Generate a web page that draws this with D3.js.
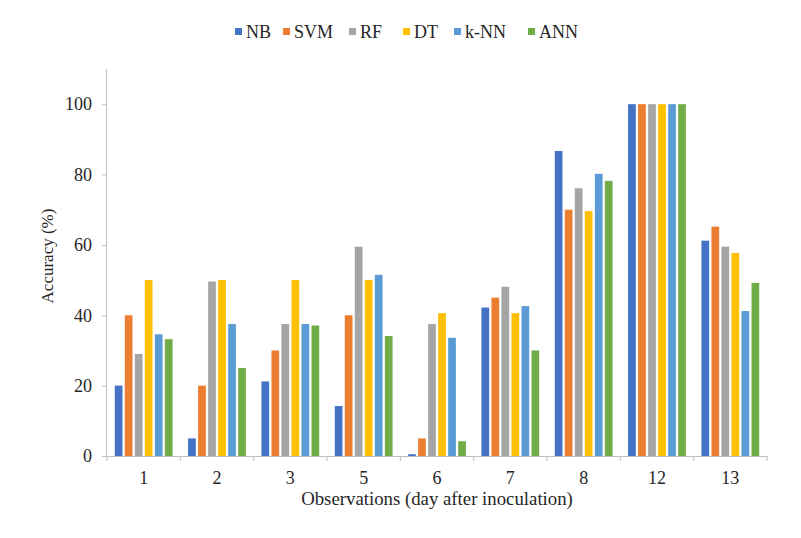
<!DOCTYPE html>
<html>
<head>
<meta charset="utf-8">
<script src="https://cdn.jsdelivr.net/npm/d3@7"></script>
<style>
  body { margin: 0; background: #fff; }
  text { font-family: "Liberation Serif", "Times New Roman", serif; fill: #262626; }
</style>
</head>
<body>
<div id="chart"></div>
<script>
const days = ["1", "2", "3", "5", "6", "7", "8", "12", "13"];
const models = ["NB", "SVM", "RF", "DT", "k-NN", "ANN"];
const colors = ["#4472C4", "#ED7D31", "#A5A5A5", "#FFC000", "#5B9BD5", "#70AD47"];

const nb  = [20, 5, 21.2, 14.2, 0.5, 42.2, 86.7, 100, 61.2];
const svm = [40, 20, 30, 40, 5, 45, 70, 100, 65.2];
const rf  = [29, 49.6, 37.5, 59.5, 37.5, 48.1, 76.1, 100, 59.5];
const dt  = [50, 50, 50, 50, 40.6, 40.6, 69.6, 100, 57.7];
const knn = [34.6, 37.5, 37.5, 51.5, 33.6, 42.6, 80.2, 100, 41.2];
const ann = [33.2, 25, 37.1, 34.1, 4.2, 30, 78.2, 100, 49.2];
const yTicks = [0, 20, 40, 60, 80, 100];

const seriesValues = [nb, svm, rf, dt, knn, ann];
const rows = [];
days.forEach((d, i) => {
  models.forEach((m, j) => rows.push({day: d, model: m, value: seriesValues[j][i]}));
});

const W = 801, H = 538;
const margin = {top: 69, right: 34, bottom: 82, left: 107};
const width = W - margin.left - margin.right,
      height = H - margin.top - margin.bottom;

const svg = d3.select("#chart")
  .append("svg")
    .attr("width", W)
    .attr("height", H)
  .append("g")
    .attr("transform", `translate(${margin.left},${margin.top})`);

const x = d3.scaleBand().domain(days).range([0, width]);
const bw = x.bandwidth();
const xi = d3.scaleBand().domain(models)
  .range([bw / 2 - 28.9, bw / 2 + 28.9])
  .paddingInner(0.23);

const y = d3.scaleLinear().domain([0, 110]).range([height, 0]);
const color = d3.scaleOrdinal().domain(models).range(colors);

// bars
svg.append("g")
  .selectAll("rect")
  .data(rows)
  .join("rect")
    .attr("x", d => x(d.day) + xi(d.model))
    .attr("y", d => y(d.value))
    .attr("width", xi.bandwidth())
    .attr("height", d => y(0) - y(d.value))
    .attr("fill", d => color(d.model));

// y axis
const yAxis = svg.append("g")
  .call(d3.axisLeft(y).tickValues(yTicks).tickSize(5).tickPadding(10));
yAxis.select(".domain").attr("stroke", "#BFBFBF").attr("d", `M-0.5,${y(0)}V0`);
yAxis.selectAll(".tick line").attr("stroke", "#BFBFBF");
yAxis.selectAll(".tick text").style("font-size", "18px");

// x axis
const xAxis = svg.append("g")
  .attr("transform", `translate(0,${height})`)
  .call(d3.axisBottom(x).tickSize(0).tickPadding(15));
xAxis.select(".domain").attr("stroke", "#BFBFBF");
xAxis.selectAll(".tick text").style("font-size", "18px");

// category boundary ticks
svg.append("g")
  .selectAll("line")
  .data(days.concat(["end"]))
  .join("line")
    .attr("x1", (d, i) => i < days.length ? x(d) : width)
    .attr("x2", (d, i) => i < days.length ? x(d) : width)
    .attr("y1", height)
    .attr("y2", height + 5)
    .attr("stroke", "#BFBFBF");

// axis titles
svg.append("text")
  .attr("x", width / 2)
  .attr("y", height + 49)
  .attr("text-anchor", "middle")
  .style("font-size", "18.8px")
  .text("Observations (day after inoculation)");

svg.append("text")
  .attr("transform", `translate(${-54},${187}) rotate(-90)`)
  .attr("text-anchor", "middle")
  .style("font-size", "17px")
  .text("Accuracy (%)");

// legend
const legendX = [235, 283, 349, 403, 454, 528];
const legend = d3.select("svg").append("g");
models.forEach((m, i) => {
  const g = legend.append("g").attr("transform", `translate(${legendX[i]},0)`);
  g.append("rect")
    .attr("x", 0).attr("y", 28)
    .attr("width", 7).attr("height", 7)
    .attr("fill", color(m));
  g.append("text")
    .attr("x", 11).attr("y", 37.5)
    .style("font-size", "18px")
    .text(m);
});
</script>
</body>
</html>
